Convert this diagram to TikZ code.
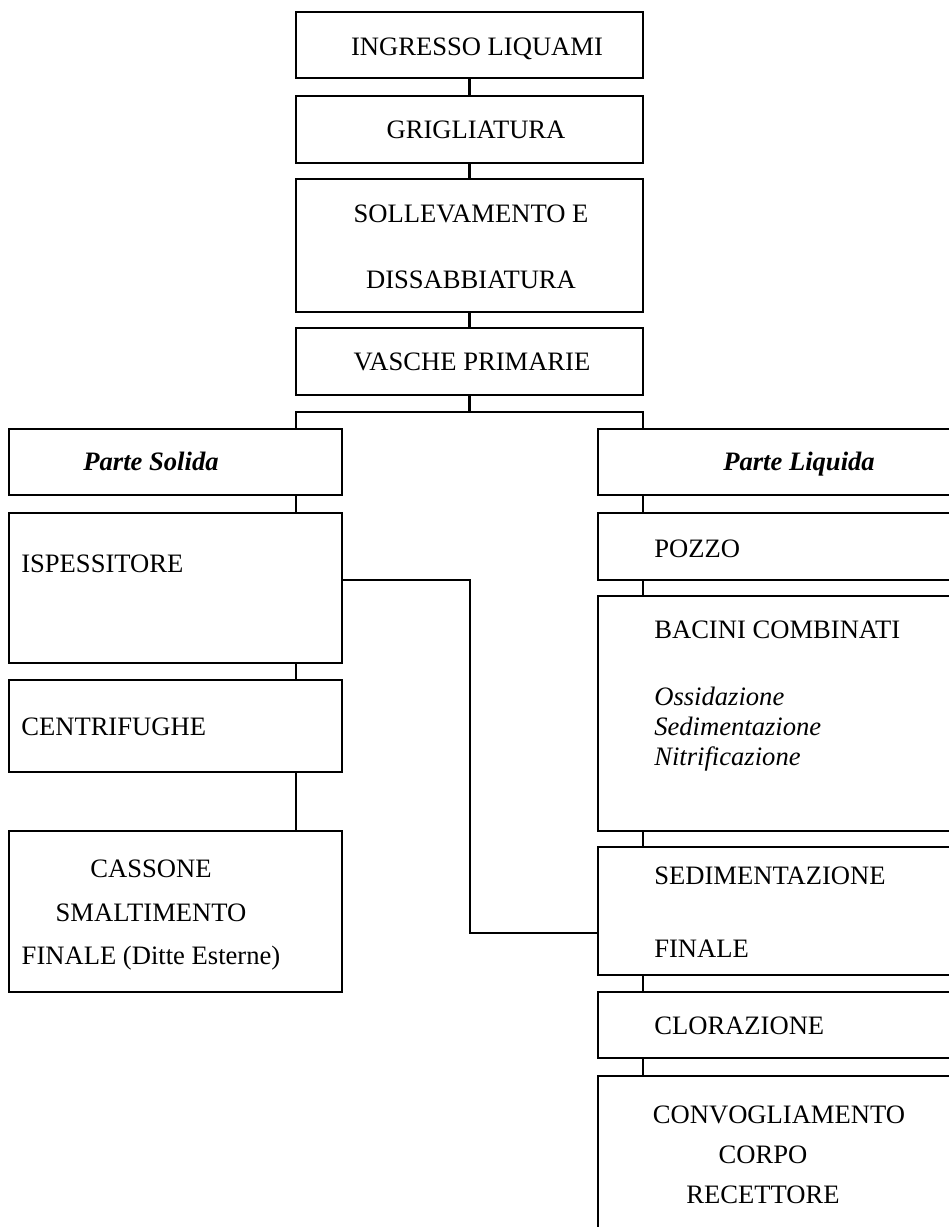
\documentclass[tikz,border=0pt]{standalone}
\usepackage{fontspec}
\setmainfont{Liberation Serif}

\begin{document}
\begin{tikzpicture}
	[x=1pt, y=-1pt, line width=2.6pt,
	box/.style = {draw, rectangle, inner sep=0pt, outer sep=0pt, anchor=north west},
	txt/.style = {inner sep=0pt, font=\fontsize{26.6}{30}\selectfont},
	part/.style = {txt, anchor=base, font=\fontsize{26.6}{30}\selectfont\bfseries\itshape}]
	\useasboundingbox (0,0) rectangle (949,1227);
	\clip (0,0) rectangle (949,1227);
	\node[box, minimum width=347pt, minimum height=66pt] (ingresso) at (296,12) {};
	\node[box, minimum width=347pt, minimum height=67pt] (grigl) at (296,96) {};
	\node[box, minimum width=347pt, minimum height=133pt] (soll) at (296,179) {};
	\node[box, minimum width=347pt, minimum height=67pt] (vasche) at (296,328) {};
	\node[box, minimum width=333pt, minimum height=66pt] (solida) at (9,429) {};
	\node[box, minimum width=452pt, minimum height=66pt] (liquida) at (598,429) {};
	\node[box, minimum width=333pt, minimum height=150pt] (isp) at (9,513) {};
	\node[box, minimum width=333pt, minimum height=92pt] (centr) at (9,680) {};
	\node[box, minimum width=333pt, minimum height=161pt] (cass) at (9,831) {};
	\node[box, minimum width=452pt, minimum height=67pt] (pozzo) at (598,513) {};
	\node[box, minimum width=452pt, minimum height=235pt] (bacini) at (598,596) {};
	\node[box, minimum width=452pt, minimum height=128pt] (sedfin) at (598,847) {};
	\node[box, minimum width=452pt, minimum height=66pt] (clor) at (598,992) {};
	\node[box, minimum width=452pt, minimum height=200pt] (conv) at (598,1076) {};
	\node[txt, anchor=base] (ingresso-t) at (477,55) {INGRESSO LIQUAMI};
	\node[txt, anchor=base] (grigl-t) at (476,138) {GRIGLIATURA};
	\node[txt, anchor=north, align=center, font=\fontsize{26.6}{66}\selectfont] (soll-t) at (471,204) {SOLLEVAMENTO E\\DISSABBIATURA};
	\node[txt, anchor=base] (vasche-t) at (472,370) {VASCHE PRIMARIE};
	\node[part] (solida-t) at (151,470) {Parte Solida};
	\node[part] (liquida-t) at (799,470) {Parte Liquida};
	\node[txt, anchor=base west] (isp-t) at (20,572) {ISPESSITORE};
	\node[txt, anchor=base west] (centr-t) at (20,735) {CENTRIFUGHE};
	\node[txt, anchor=north, align=center, font=\fontsize{26.6}{43.5}\selectfont] (cass-t) at (151,859) {CASSONE\\SMALTIMENTO\\FINALE (Ditte Esterne)};
	\node[txt, anchor=base west] (pozzo-t) at (653,557) {POZZO};
	\node[txt, anchor=north west, align=left] (bacini-t) at (653,620) {BACINI COMBINATI\\[37pt]\textit{Ossidazione}\\\textit{Sedimentazione}\\\textit{Nitrificazione}};
	\node[txt, anchor=north west, align=left, font=\fontsize{26.6}{73}\selectfont] (sedfin-t) at (653,866) {SEDIMENTAZIONE\\FINALE};
	\node[txt, anchor=base west] (clor-t) at (653,1034) {CLORAZIONE};
	\node[txt, anchor=north, align=center, font=\fontsize{26.6}{40}\selectfont] (conv-t) at (763,1105) {\hspace*{32pt}CONVOGLIAMENTO\\CORPO\\RECETTORE};
	\coordinate (bus) at (469.5,412);
	\coordinate (bl) at (296,412);
	\coordinate (br) at (643,412);
	\coordinate (c1) at (470,580);
	\coordinate (c2) at (470,933);
	\draw (ingresso) -- (grigl);
	\draw (grigl) -- (soll);
	\draw (soll) -- (vasche);
	\draw (vasche) -- (bus);
	\draw (solida.north -| bl) -- (bl) -- (br) -- (liquida.north -| br);
	\draw (solida.south -| bl) -- (isp.north -| bl);
	\draw (isp.south -| bl) -- (centr.north -| bl);
	\draw (centr.south -| bl) -- (cass.north -| bl);
	\draw (liquida.south -| br) -- (pozzo.north -| br);
	\draw (pozzo.south -| br) -- (bacini.north -| br);
	\draw (bacini.south -| br) -- (sedfin.north -| br);
	\draw (sedfin.south -| br) -- (clor.north -| br);
	\draw (clor.south -| br) -- (conv.north -| br);
	\draw (isp.east |- c1) -- (c1) -- (c2) -- (sedfin.west |- c2);
\end{tikzpicture}
\end{document}
